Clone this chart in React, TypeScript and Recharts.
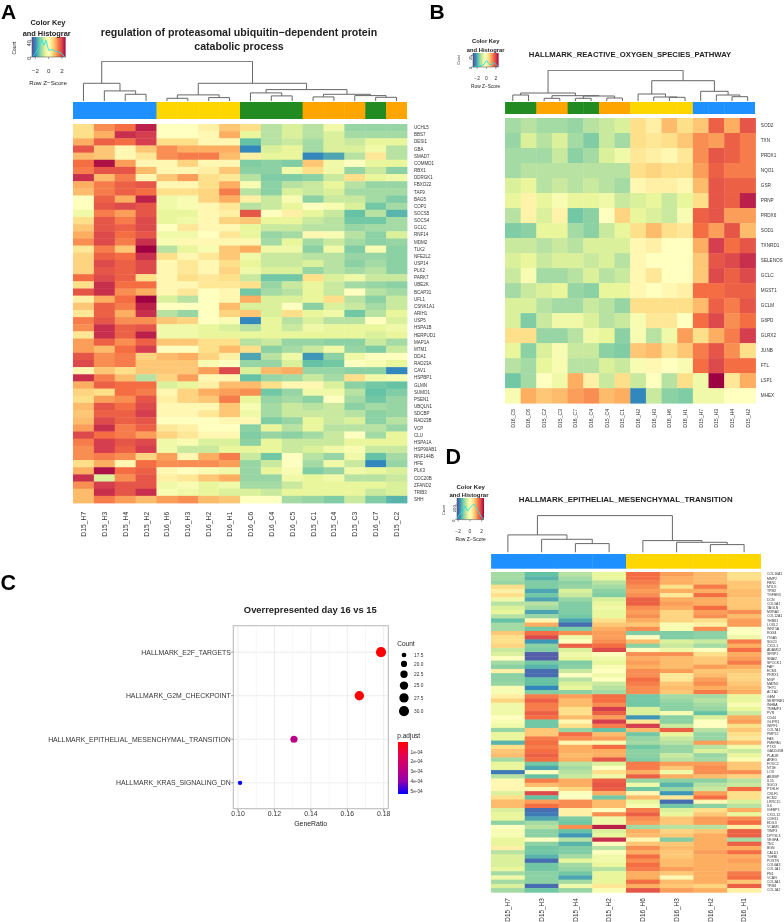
import React from 'react';
import { ScatterChart, Scatter, XAxis, YAxis, ZAxis, LineChart, Line, ReferenceArea, ReferenceLine, Cell } from 'recharts';

// ---------- Palette ----------
const SPECTRAL = ['#5E4FA2', '#3288BD', '#66C2A5', '#ABDDA4', '#E6F598', '#FFFFBF', '#FEE08B', '#FDAE61', '#F46D43', '#D53E4F', '#9E0142'];
const GROUP_COLORS: Record<string, string> = { blue: '#1E90FF', gold: '#FFD700', green: '#228B22', orange: '#FFA500' };
const FONT = '"Liberation Sans", Arial, sans-serif';

// ---------- Panel A ----------
const colsA = ['D15_H7', 'D15_H3', 'D15_H4', 'D15_H2', 'D16_H6', 'D16_H3', 'D16_H2', 'D16_H1', 'D16_C6', 'D16_C4', 'D16_C5', 'D15_C1', 'D15_C4', 'D15_C3', 'D16_C7', 'D15_C2'];
const groupsA = ['blue', 'blue', 'blue', 'blue', 'gold', 'gold', 'gold', 'gold', 'green', 'green', 'green', 'orange', 'orange', 'orange', 'green', 'orange'];
const rowsA = ['UCHL5', 'BBS7', 'DESI1', 'GBA', 'SMAD7', 'COMMD1', 'RBX1', 'DDRGK1', 'FBXO22', 'TAF9', 'BAG5', 'COP1', 'SOCS5', 'SOCS4', 'GCLC', 'RNF14', 'MDM2', 'TLK2', 'NFE2L2', 'USP14', 'PLK2', 'PARK7', 'UBE2K', 'BCAP31', 'UFL1', 'CSNK1A1', 'ARIH1', 'USP5', 'HSPA1B', 'HERPUD1', 'MAP1A', 'MTM1', 'DDA1', 'RAD23A', 'CAV1', 'HSPBP1', 'GLMN', 'SUMO1', 'PSEN1', 'UBQLN1', 'SDCBP', 'RAD23B', 'VCP', 'CLU', 'HSPA1A', 'HSP90AB1', 'RNF144B', 'HFE', 'PLK3', 'CDC20B', 'ZFAND2', 'TRIB3', 'SHH'];
const matrixA = [
  [12, 15, 16, 19, 10, 10, 11, 13, 12, 7, 8, 7, 9, 6, 6, 6],
  [12, 14, 18.5, 18, 10, 10, 10.5, 14, 8.5, 7, 8, 7, 8, 6.5, 6.5, 6.5],
  [14, 16.5, 16, 18, 12, 12, 10.5, 10.5, 4, 7, 7.5, 6.5, 8, 7.5, 8.5, 8.5],
  [17, 13, 10.5, 13, 15, 14, 14, 14, 2, 8, 8.5, 6.5, 8, 8, 9, 7],
  [13.5, 13, 10.5, 11.5, 15, 15.5, 15.5, 13.5, 11, 8.5, 8.5, 2, 3, 7, 11.5, 7],
  [16, 19.5, 14.5, 10.5, 10.5, 12.5, 10.5, 10.5, 5, 5.5, 5, 13, 9, 10, 8.5, 8.5],
  [15.5, 17, 17, 13.5, 10.5, 10.5, 11, 13, 5.5, 5.5, 9, 12, 9, 6, 7.5, 5.5],
  [18.5, 13.5, 15.5, 10.5, 13, 14.5, 12, 11.5, 7, 5, 5, 5.5, 7.5, 12, 8.5, 9],
  [14, 15.5, 16.5, 17, 10.5, 10.5, 12, 14, 9.5, 5.5, 7, 7.5, 8.5, 7, 6, 6],
  [13.5, 15.5, 16.5, 16, 12, 12, 12.5, 15.5, 7, 5.5, 8, 7.5, 8, 6.5, 6.5, 6.5],
  [10, 16.5, 14, 19, 9, 9.5, 12.5, 14, 11, 7.5, 9.5, 5.5, 7.5, 7.5, 6.5, 5],
  [10, 17, 17.5, 17, 9, 9.5, 10.5, 11.5, 7, 7.5, 8.5, 10, 9.5, 8, 4.5, 6.5],
  [9, 15.5, 14.5, 17, 8.5, 8.5, 10.5, 11, 17, 10, 11, 8.5, 7.5, 4, 7, 3.5],
  [12, 17, 15.5, 17.5, 8.5, 9, 10.5, 12.5, 13, 8.5, 8.5, 7.5, 7, 4.5, 4.5, 6.5],
  [13, 17, 16.5, 17.5, 10, 11.5, 10.5, 10.5, 8.5, 7.5, 7.5, 7, 7, 6, 6.5, 6.5],
  [14, 17.5, 16, 17, 9, 9, 10, 11.5, 8.5, 6, 6.5, 10.5, 9.5, 7, 5.5, 8],
  [15, 17.5, 15.5, 18.5, 9.5, 10.5, 10.5, 10.5, 10.5, 6.5, 8.5, 6.5, 7.5, 6.5, 5.5, 6],
  [11.5, 15.5, 13, 20, 7, 8.5, 9.5, 13, 14, 9, 9, 5.5, 9, 5, 9.5, 5.5],
  [12.5, 16.5, 16, 18.5, 12, 10.5, 11.5, 13, 9, 7.5, 7.5, 7, 7, 6, 6, 5.5],
  [12.5, 17.5, 16.5, 17.5, 10.5, 11.5, 10.5, 12, 8.5, 7.5, 7.5, 8, 7, 5.5, 6.5, 5.5],
  [12.5, 17, 16.5, 17.5, 10.5, 11.5, 10.5, 12.5, 9, 8, 8, 6, 7, 6.5, 7, 5.5],
  [16, 17.5, 16.5, 12, 10.5, 12, 11.5, 12, 7.5, 4.5, 4.5, 12, 8, 9, 7.5, 7.5],
  [12, 18.5, 16, 16, 10.5, 10.5, 11.5, 11.5, 12, 6, 7.5, 8.5, 7.5, 6.5, 6, 5.5],
  [17, 18.5, 15, 14, 10.5, 11.5, 10, 10.5, 4.5, 6.5, 7, 8.5, 7.5, 10, 7, 6.5],
  [11, 14, 16, 20, 8, 7, 10, 10.5, 14, 8, 8, 8.5, 12, 7, 5.5, 7.5],
  [13, 16.5, 15.5, 19, 10, 10, 10, 13.5, 8, 8, 10, 5.5, 8, 7.5, 6.5, 7.5],
  [11.5, 16.5, 14, 18.5, 7, 6, 10, 12.5, 13, 8, 12, 8.5, 9, 4.5, 7, 8.5],
  [15.5, 17, 15, 15, 13, 12.5, 10, 9.5, 2, 8.5, 7, 8, 7, 7, 10, 8],
  [15, 18.5, 16.5, 17, 9, 9, 8.5, 8, 7, 8.5, 7.5, 9, 8.5, 8.5, 8.5, 9],
  [11.5, 18.5, 16.5, 19, 9, 9, 8.5, 8.5, 8.5, 8.5, 8.5, 8.5, 8.5, 8.5, 8, 8.5],
  [14.5, 16.5, 15, 16.5, 13, 13, 12, 12, 7, 7.5, 6, 6, 5.5, 5.5, 7.5, 6.5],
  [14.5, 13.5, 16, 18, 10, 10, 12, 13.5, 12, 5.5, 6.5, 7.5, 9, 6, 5, 7.5],
  [17, 15, 15.5, 12.5, 13.5, 14, 12.5, 11, 3, 7, 9, 2.5, 5.5, 9, 10, 10],
  [17.5, 15, 15.5, 13, 13, 13, 9.5, 10, 6, 6, 8, 4, 4.5, 10, 9.5, 8.5],
  [10.5, 13, 12, 13, 13, 13, 14.5, 17.5, 8, 13.5, 14, 6, 6, 5.5, 5.5, 2],
  [18.5, 15.5, 13.5, 7, 12.5, 14.5, 10.5, 10.5, 4, 6, 6.5, 7.5, 6.5, 12, 9, 9.5],
  [14, 16.5, 16, 16, 8, 8.5, 11, 13.5, 13.5, 12, 10.5, 10.5, 8, 5.5, 4.5, 4],
  [12.5, 12, 16, 15.5, 10.5, 12.5, 14, 14.5, 15, 4.5, 6, 9, 9, 7, 4, 5],
  [12, 14.5, 15, 17, 11, 12.5, 13, 15.5, 8.5, 6, 6.5, 5.5, 10, 6.5, 4.5, 6],
  [13.5, 17, 16, 17.5, 10.5, 10.5, 10.5, 13, 9.5, 6.5, 7.5, 7, 7.5, 5.5, 6.5, 6],
  [13, 16.5, 16.5, 18, 10.5, 10.5, 11.5, 13, 9, 6.5, 7.5, 7.5, 7.5, 7, 5.5, 6],
  [13.5, 17.5, 16.5, 17, 10, 10, 10, 10.5, 10.5, 5, 6, 8.5, 7.5, 8, 5.5, 7],
  [14.5, 18.5, 15.5, 16.5, 11.5, 11, 10, 10, 5.5, 8.5, 7, 8.5, 7, 7, 7, 6],
  [17.5, 16, 15.5, 14.5, 12.5, 11.5, 10.5, 10.5, 5, 6, 5.5, 6.5, 7.5, 10, 6.5, 8.5],
  [15.5, 18, 17, 17.5, 9, 9.5, 8, 8, 5.5, 8.5, 7.5, 7.5, 7.5, 8.5, 8.5, 8.5],
  [15, 18, 16.5, 18, 9, 7.5, 7.5, 8.5, 8.5, 8.5, 7.5, 8, 9, 9.5, 7.5, 7.5],
  [15, 15.5, 15, 12.5, 14.5, 10.5, 14, 15.5, 7.5, 4.5, 10, 7, 6, 9, 4, 6.5],
  [12, 14, 10.5, 16, 15, 15, 15, 14.5, 6, 7.5, 10, 6.5, 9, 7.5, 2, 6],
  [14, 19.5, 16, 16.5, 10.5, 10, 9.5, 9, 6, 8.5, 9.5, 5, 6, 9, 8.5, 8],
  [18.5, 8, 15, 17, 11, 11.5, 13, 14, 6, 6, 9, 8.5, 9, 7, 7, 7.5],
  [15, 18, 17, 17, 9, 9.5, 8.5, 9, 6.5, 6.5, 7.5, 8.5, 8.5, 8.5, 8.5, 8],
  [13.5, 18.5, 17, 18.5, 9.5, 9, 8.5, 8, 8, 7.5, 8.5, 8.5, 8.5, 8.5, 7.5, 8],
  [13.5, 15.5, 14.5, 13.5, 14.5, 15, 13.5, 13, 10, 10, 6.5, 6, 5, 7.5, 5, 3.5],
];
// [left x, right x, left foot, right foot, top]
const mergesA = [
  [2.5, 3.5, 0, 0, 7.3], [1.5, 3, 0, 7.3, 10.7], [0.5, 2.25, 0, 10.7, 18.3],
  [4.5, 5.5, 0, 0, 3.3], [6.5, 7.5, 0, 0, 4], [5, 7, 3.3, 4, 6.7],
  [9.5, 10.5, 0, 0, 5.7], [8.5, 10, 0, 5.7, 8.7], [11.5, 12.5, 0, 0, 4.7],
  [14.5, 15.5, 0, 0, 4.3], [13.5, 15, 0, 4.3, 6], [12, 14.25, 4.7, 6, 7.3],
  [9.25, 13.125, 8.7, 7.3, 12], [6, 11.19, 6.7, 12, 18.3], [1.375, 8.6, 18.3, 18.3, 40.3],
];
const histA = [[-2.4, 2], [-2, 8], [-1.5, 22], [-1, 42], [-0.7, 28], [-0.4, 40], [0, 16], [0.5, 18], [1, 14], [1.5, 12], [2, 8], [2.4, 0]];

// ---------- Panel B ----------
const colsB = ['D16_C5', 'D16_C6', 'D15_C2', 'D15_C3', 'D16_C7', 'D16_C4', 'D15_C4', 'D15_C1', 'D16_H2', 'D16_H3', 'D16_H6', 'D16_H1', 'D15_H7', 'D15_H3', 'D15_H4', 'D15_H2'];
const groupsB = ['green', 'green', 'orange', 'orange', 'green', 'green', 'orange', 'orange', 'gold', 'gold', 'gold', 'gold', 'blue', 'blue', 'blue', 'blue'];
const rowsB = ['SOD2', 'TXN', 'PRDX1', 'NQO1', 'GSR', 'PRNP', 'PRDX6', 'SOD1', 'TXNRD1', 'SELENOS', 'GCLC', 'MGST1', 'GCLM', 'G6PD', 'GLRX2', 'JUNB', 'FTL', 'LSP1', 'MHEX'];
const matrixB = [
  [6.5, 7, 6.5, 6.5, 6, 7, 7.5, 8, 12, 11, 13.5, 12, 13, 16.5, 14, 17],
  [6, 8, 7, 8, 6.5, 5, 7.5, 6.5, 12, 11.5, 12, 13, 15, 14.5, 16.5, 15.5],
  [6.5, 6.5, 6.5, 7.5, 5.5, 6.5, 8, 9, 11.5, 11, 10.5, 11.5, 15, 17, 16.5, 15.5],
  [6.5, 7, 7, 7, 7, 7, 7, 7, 12, 12.5, 12, 12, 14.5, 16.5, 15.5, 15.5],
  [8, 8.5, 7, 7.5, 7, 7.5, 7, 6.5, 10.5, 11, 11, 10.5, 13.5, 17, 16.5, 16.5],
  [8.5, 10.8, 8.5, 9.5, 8.5, 8.5, 9, 7.5, 8, 8.5, 7.5, 8.5, 12, 17, 16.5, 19],
  [7, 10.8, 8, 10.8, 4.5, 5.5, 10, 12.5, 8.5, 8, 7.5, 9.5, 16.5, 17, 14.5, 14.5],
  [5, 5.5, 8.5, 8.5, 6.5, 5.5, 7.5, 8.5, 12, 13.5, 12, 11.5, 16, 14.5, 17, 13.5],
  [7.5, 7.5, 7, 7.5, 7, 8, 8, 8, 10.5, 11, 10, 10, 14, 18, 16, 17],
  [8, 8.5, 7.5, 8, 8, 7.5, 8, 7, 10.5, 10, 10, 10, 13, 17, 17.5, 18.5],
  [7.5, 9.5, 6.5, 6.5, 7, 8, 7, 7.5, 10.5, 11.5, 10, 10, 13, 17.5, 16.5, 17.5],
  [6.5, 7.5, 8, 8.5, 6, 5.5, 8.5, 8.5, 10.5, 10, 10.5, 11, 16, 16, 16.5, 16.5],
  [8, 8, 7, 6.5, 6.5, 7.5, 7, 6, 12, 12, 12, 12, 13.5, 16.5, 15.5, 17],
  [8, 5, 7.5, 9, 9, 8, 7, 7.5, 9.5, 11.5, 11.5, 10, 16, 17.5, 15, 16],
  [12, 12, 6, 6, 7, 9, 8.5, 5.5, 9.5, 7, 9, 14.5, 12, 14, 15.5, 18],
  [8.5, 5.5, 8, 9.5, 7.5, 7.5, 5.5, 5, 13, 13.5, 12, 13, 15.5, 17, 15, 12],
  [7, 6.5, 8.5, 9.5, 7, 7, 8, 7.5, 9.5, 10.5, 10, 9.5, 16, 17.5, 16, 16],
  [4.5, 6.5, 10, 9, 14, 11, 7.5, 12, 7.5, 10, 7, 12, 9, 20, 11.5, 14],
  [9.5, 14, 13, 13.5, 14.5, 15, 13.5, 14, 2, 7.5, 5.5, 5, 9, 9, 10, 10],
];
const mergesB = [
  [0.5, 1.5, 0, 0, 6], [2.5, 3.5, 0, 0, 2.7], [4.5, 5.5, 0, 0, 2.7], [6.5, 7.5, 0, 0, 3],
  [5, 7, 2.7, 3, 5], [3, 6, 2.7, 5, 5.3], [1, 4.5, 6, 5.3, 8],
  [10.5, 11.5, 0, 0, 3.7], [9.5, 11, 0, 3.7, 4], [8.5, 10.25, 0, 4, 7],
  [14.5, 15.5, 0, 0, 4.3], [13.5, 15, 0, 4.3, 6], [12.5, 14.25, 0, 6, 9.7],
  [9.375, 13.375, 7, 9.7, 20.3], [2.75, 11.375, 8, 20.3, 30.7],
];
const histB = [[-2.9, 0], [-2, 1], [-1, 3], [-0.5, 6], [0, 14], [0.5, 6], [1, 4], [1.5, 10], [2, 6], [2.6, 0]];

// ---------- Panel D ----------
const colsD = ['D15_H7', 'D15_H3', 'D15_H4', 'D15_H2', 'D16_H6', 'D16_H3', 'D16_H2', 'D16_H1'];
const groupsD = ['blue', 'blue', 'blue', 'blue', 'gold', 'gold', 'gold', 'gold'];
const rowsD = ['COL16A1', 'MMP2', 'FBN1', 'MYLK', 'TPM2', 'TGFBR3', 'DCN', 'COL5A1', 'TAGLN', 'MXRA5', 'COL12A1', 'THBS1', 'LOXL2', 'WNT5A', 'RGS4', 'ITGA5', 'SGCD', 'CXCL1', 'ADAM12', 'SFRP1', 'SNAI2', 'SPOCK1', 'FAP', 'ECM1', 'PRRX1', 'MGP', 'MATN2', 'THY1', 'ACTA2', 'GEM', 'SERPINE1', 'INHBA', 'TNFAIP3', 'PVR', 'CD44', 'GLIPR1', 'WIPF1', 'COL7A1', 'PMP22', 'FAS', 'PMEPA1', 'PTX3', 'GADD45B', 'PLAUR', 'AREG', 'FOXC2', 'NT5E', 'LOX', 'ABI3BP', 'IL15', 'SGCG', 'PTHLH', 'CRLF1', 'ECM2', 'LRRC15', 'IL6', 'IGFBP3', 'CXCL12', 'CDH11', 'EDIL3', 'VCAM1', 'TIMP3', 'DPYSL3', 'VEGFA', 'TNC', 'BGN', 'CALD1', 'TGFBI', 'POSTN', 'COL6A3', 'COL1A1', 'FN1', 'VCAN', 'COL3A1', 'TPM4', 'COL1A2'];
const matrixD = [
  [6.5, 4, 7, 8.5, 16, 14.5, 13.5, 12], [6.5, 3.5, 6.5, 8.5, 16, 14, 13.5, 12], [6, 5, 5.5, 7, 15.5, 14, 13.5, 13],
  [12, 5, 6, 6.5, 15, 12, 15.5, 13], [11, 3, 8, 5.5, 14.5, 14, 14, 13.5], [12, 4.5, 7.5, 5, 15, 11.5, 16, 13.5],
  [9, 3, 6, 8, 16.5, 14, 14, 13], [7, 7, 5, 8.5, 16.5, 14.5, 14, 13], [8, 6.5, 5, 9, 15, 14, 16, 13],
  [8.5, 3, 5, 8.5, 14.5, 12.5, 14.5, 15], [7, 6, 4.5, 8.5, 15, 12.5, 15, 13.5], [4, 10.5, 3, 12, 14, 12.5, 12, 14.5],
  [6.5, 14, 1, 13, 13, 9.5, 11, 14.5], [6.5, 4.5, 5, 14, 15, 9.5, 15, 10], [13, 16, 15, 14.5, 5, 5, 5.5, 10],
  [12, 17.5, 9, 14.5, 10, 5, 5.5, 9], [12, 2.5, 10, 15, 13.5, 8, 7.5, 15.5], [12.5, 5.5, 16.5, 16, 5.5, 7.5, 6.5, 14],
  [7.5, 5, 8, 17.5, 10, 9, 10, 16], [8, 0.5, 9, 10, 15, 15, 12, 14], [10, 0.5, 8.5, 9, 14, 13.5, 13, 14.5],
  [6.5, 4.5, 5, 8.5, 14.5, 13.5, 13, 15.5], [5.5, 3.5, 5.5, 9.5, 14, 13.5, 14.5, 14], [11, 1, 7.5, 10, 15, 14.5, 13, 13],
  [5.5, 1, 10, 9, 15, 11.5, 13.5, 12.5], [5.5, 4, 7, 10, 16, 11.5, 14.5, 12.5], [6, 4, 8, 7.5, 15.5, 13, 15, 13],
  [9.5, 2, 8.5, 7, 15, 13.5, 14, 13.5], [9.5, 5, 5.5, 6.5, 15, 13, 15.5, 14], [11, 15.5, 14.5, 16, 4.5, 6.5, 6.5, 8.5],
  [12.5, 16.5, 13.5, 16, 4.5, 6, 7, 8.5], [9, 15.5, 13.5, 15, 4.5, 5.5, 6.5, 9.5], [9, 15.5, 12, 18, 8, 5.5, 6, 8.5],
  [9, 16.5, 12, 16.5, 8, 9.5, 4, 7.5], [10, 16, 13.5, 14.5, 2.5, 5.5, 8, 14], [9.5, 4.5, 10.5, 18, 11.5, 5.5, 10, 14.5],
  [9, 4.5, 12, 15.5, 18, 7.5, 10, 12], [6, 13, 6, 4, 13.5, 16.5, 7, 13], [8.5, 13, 16, 13.5, 4.5, 8.5, 6, 12],
  [8.5, 15.5, 15, 14.5, 6, 7.5, 6, 11.5], [3.5, 16, 10.5, 9.5, 6.5, 7, 14.5, 13.5], [12, 15.5, 14, 16, 4.5, 6, 7, 9],
  [13, 16, 14, 14, 5.5, 6, 8, 7.5], [13.5, 16.5, 13.5, 14, 5.5, 7.5, 6, 8.5], [6.5, 16, 14, 17, 5, 7, 6.5, 9.5],
  [8.5, 4.5, 7, 8, 15.5, 14.5, 14.5, 13], [8.5, 3, 6.5, 10, 15.5, 13, 15, 13], [1.5, 10, 7, 12, 14, 9, 15, 15],
  [7, 4, 7.5, 9, 16.5, 14, 13.5, 12.5], [10.5, 15.5, 14, 16.5, 6, 5.5, 5.5, 7], [10.5, 13.5, 14, 17, 9, 3.5, 7, 7.5],
  [10.5, 10.5, 12.5, 16.5, 4.5, 6, 7.5, 16], [8, 17.5, 10, 14, 10.5, 2.5, 14.5, 12], [12, 4, 10, 4.5, 13.5, 11.5, 16, 12],
  [13.5, 14.5, 15, 13.5, 8.5, 1, 10.5, 8], [13.5, 16, 15, 13.5, 9.5, 4.5, 5.5, 7], [8, 1, 11, 10, 15.5, 8, 12, 14],
  [8.5, 1.5, 11, 15, 16.5, 8.5, 13, 8.5], [8.5, 3, 5, 9, 15, 13, 14.5, 15], [5.5, 6.5, 4.5, 9, 14.5, 13, 14.5, 16],
  [10, 7, 15, 19, 6.5, 7, 7, 11], [9.5, 5.5, 4, 8, 14, 12.5, 13, 16.5], [9.5, 5.5, 2.5, 8.5, 13.5, 13, 14, 16.5],
  [8.5, 10, 7, 18.5, 10.5, 5, 14, 6.5], [8.5, 5.5, 3.5, 10, 13, 13, 14, 16.5], [11, 4.5, 5, 7, 15, 13.5, 14, 14],
  [7, 4.5, 5, 10, 14, 13, 14.5, 16], [8, 3.5, 6.5, 9, 16, 13, 14, 14], [8, 1, 8.5, 9, 15, 13.5, 14, 14.5],
  [8, 4.5, 6.5, 8.5, 16, 13.5, 14, 14], [8.5, 4.5, 6, 7, 15.5, 14.5, 14, 14], [6.5, 5.5, 4.5, 8.5, 14, 13, 14, 15.5],
  [9, 5.5, 3, 8.5, 14, 10.5, 14, 16], [6.5, 5.5, 6.5, 8.5, 16, 13.5, 14, 13], [8, 1, 9, 11.5, 14, 13, 12.5, 16.5],
  [6.5, 4.5, 6, 9.5, 17, 14.5, 14, 11],
];
const mergesD = [
  [2.5, 3.5, 0, 0, 9], [1.5, 3, 0, 9, 13.3], [0.5, 2.25, 0, 13.3, 17.7],
  [6.5, 7.5, 0, 0, 8], [5.5, 7, 0, 8, 10.3], [4.5, 6.25, 0, 10.3, 12], [1.375, 5.375, 17.7, 12, 37],
];
const histD = [[-2.2, 10], [-1.9, 60], [-1.5, 90], [-1.2, 120], [-0.8, 190], [-0.4, 120], [0, 160], [0.4, 200], [0.8, 210], [1.2, 150], [1.6, 90], [2, 30], [2.4, 5]];

// ---------- Panel C ----------
const termsC = ['HALLMARK_KRAS_SIGNALING_DN', 'HALLMARK_EPITHELIAL_MESENCHYMAL_TRANSITION', 'HALLMARK_G2M_CHECKPOINT', 'HALLMARK_E2F_TARGETS'];
const geneRatioC = [0.1011, 0.1307, 0.1666, 0.1785];
const countC = [17, 22, 28, 30];
const pAdjustC = [5.2e-4, 2.9e-4, 1e-5, 1e-5];
const ratioTicks = [0.1, 0.12, 0.14, 0.16, 0.18];
const ratioMinor = [0.11, 0.13, 0.15, 0.17];
const countKeys = [17.5, 20, 22.5, 25, 27.5, 30];
const pTicks = [1e-4, 2e-4, 3e-4, 4e-4, 5e-4];

// ---------- Helpers ----------
const hex = (s: string) => [1, 3, 5].map((i) => parseInt(s.slice(i, i + 2), 16));
function mix(stops: string[], t: number) {
  const p = Math.max(0, Math.min(1, t)) * (stops.length - 1);
  const i = Math.min(Math.floor(p), stops.length - 2);
  const a = hex(stops[i]);
  const b = hex(stops[i + 1]);
  const c = a.map((v, k) => Math.round(v + (b[k] - v) * (p - i)));
  return `rgb(${c[0]},${c[1]},${c[2]})`;
}
// The greens of the reference sit a little further from yellow than a plain reading of the level.
function levelColor(v: number) {
  let u = v;
  if (v > 4 && v < 6.5) u = v - (0.7 * (v - 4)) / 2.5;
  else if (v >= 6.5 && v < 10) u = v - (0.7 * (10 - v)) / 3.5;
  return mix(SPECTRAL, u / 20);
}
const P_STOPS = ['#FF0000', '#E6004F', '#C2007C', '#9500AE', '#0000FF'];
const pColor = (p: number) => mix(P_STOPS, p / 5.27e-4);

const Abs = ({ l, t, children }: any) => <div style={{ position: 'absolute', left: l, top: t }}>{children}</div>;

function Heatmap({ left, top, w, h, rows, cols, matrix, rowFont, colFont, rowGap, colGap, labelH, labelW }: any) {
  const data: any[] = [];
  matrix.forEach((r: number[], i: number) => r.forEach((z, j) => data.push({ x: j + 0.5, y: i + 0.5, z })));
  const cw = w / cols.length;
  const ch = h / rows.length;
  const cell = (p: any) => (
    <rect x={p.cx - cw / 2} y={p.cy - ch / 2} width={cw + 0.4} height={ch + 0.4} fill={levelColor(p.payload.z)} />
  );
  const colTick = (p: any) => (
    <text
      transform={`rotate(-90 ${p.x} ${h + colGap})`}
      x={p.x}
      y={h + colGap}
      dy={colFont * 0.36}
      textAnchor="end"
      fontSize={colFont}
      fontFamily={FONT}
      fill="#333"
    >
      {cols[p.payload.value - 0.5]}
    </text>
  );
  return (
    <Abs l={left} t={top}>
      <ScatterChart width={w + labelW} height={h + labelH} margin={{ top: 0, right: 0, bottom: 0, left: 0 }}>
        <XAxis type="number" dataKey="x" domain={[0, cols.length]} ticks={cols.map((_: any, i: number) => i + 0.5)} interval={0} height={labelH} axisLine={false} tickLine={false} tick={colTick} />
        <YAxis
          type="number"
          dataKey="y"
          orientation="right"
          reversed
          domain={[0, rows.length]}
          ticks={rows.map((_: any, i: number) => i + 0.5)}
          interval={0}
          width={labelW}
          axisLine={false}
          tickLine={false}
          tickSize={0}
          tickMargin={rowGap}
          tick={{ fontSize: rowFont, fontFamily: FONT, fill: '#333' }}
          tickFormatter={(v: number) => rows[v - 0.5]}
        />
        <Scatter data={data} shape={cell} isAnimationActive={false} />
      </ScatterChart>
    </Abs>
  );
}

function Annotation({ left, top, w, h, groups }: any) {
  const data = groups.map((g: string, i: number) => ({ x: i + 0.5, y: 0.5, g }));
  const cw = w / groups.length;
  const cell = (p: any) => <rect x={p.cx - cw / 2} y={0} width={cw + 0.4} height={h} fill={GROUP_COLORS[p.payload.g]} />;
  return (
    <Abs l={left} t={top}>
      <ScatterChart width={w} height={h} margin={{ top: 0, right: 0, bottom: 0, left: 0 }}>
        <XAxis type="number" dataKey="x" domain={[0, groups.length]} hide />
        <YAxis type="number" dataKey="y" domain={[0, 1]} hide />
        <Scatter data={data} shape={cell} isAnimationActive={false} />
      </ScatterChart>
    </Abs>
  );
}

function Dendro({ left, top, w, h, n, maxH, merges }: any) {
  return (
    <Abs l={left} t={top}>
      <ScatterChart width={w} height={h} margin={{ top: 0, right: 0, bottom: 0, left: 0 }}>
        <XAxis type="number" dataKey="x" domain={[0, n]} hide />
        <YAxis type="number" dataKey="y" domain={[0, maxH]} hide allowDataOverflow />
        {merges.map((m: number[], i: number) => (
          <Scatter
            key={i}
            data={[{ x: m[0], y: m[2] }, { x: m[0], y: m[4] }, { x: m[1], y: m[4] }, { x: m[1], y: m[3] }]}
            line={{ stroke: '#666', strokeWidth: 1 }}
            shape={() => <g />}
            isAnimationActive={false}
          />
        ))}
      </ScatterChart>
    </Abs>
  );
}

function ColorKey({ id, plotL, plotT, w, h, xDomain, yDomain, xTicks, yTicks, hist, font, tickMargin }: any) {
  const axisW = 12;
  const axisH = 26;
  const data = hist.map((p: number[]) => ({ x: p[0], y: p[1] }));
  return (
    <Abs l={plotL - axisW} t={plotT}>
      <LineChart width={w + axisW + 1} height={h + axisH} data={data} margin={{ top: 0, right: 1, bottom: 0, left: 0 }}>
        <defs>
          <linearGradient id={id} x1="0" x2="1" y1="0" y2="0">
            {SPECTRAL.map((c, i) => <stop key={c} offset={i / 10} stopColor={c} />)}
          </linearGradient>
        </defs>
        <XAxis type="number" dataKey="x" domain={xDomain} ticks={xTicks} interval={0} height={axisH} tickSize={2} tickMargin={tickMargin} stroke="#444" strokeWidth={0.5} tick={{ fontSize: font, fontFamily: FONT, fill: '#333' }} tickFormatter={(v: number) => String(v).replace('-', '\u2212')} />
        <YAxis type="number" domain={yDomain} ticks={yTicks} interval={0} width={axisW} tickSize={2} tickMargin={1} stroke="#444" strokeWidth={0.5} angle={-90} tick={{ fontSize: font * 0.85, fontFamily: FONT, fill: '#333' }} />
        <ReferenceArea x1={xDomain[0]} x2={xDomain[1]} y1={yDomain[0]} y2={yDomain[1]} fill={`url(#${id})`} fillOpacity={1} stroke="none" />
        <Line dataKey="y" type="linear" stroke="#22E6E6" strokeWidth={0.9} dot={false} isAnimationActive={false} />
      </LineChart>
    </Abs>
  );
}

function DotPlot() {
  const data = termsC.map((t, i) => ({ x: geneRatioC[i], y: i + 1, z: countC[i], p: pAdjustC[i] }));
  const tickStyle = { fontSize: 6.9, fontFamily: FONT, fill: '#333' };
  return (
    <Abs l={0} t={625.7}>
      <ScatterChart width={396} height={200} margin={{ top: 0, right: 7.7, bottom: 0, left: 0 }}>
        <XAxis type="number" dataKey="x" domain={[0.0974, 0.1825]} ticks={ratioTicks} interval={0} height={17} tickSize={2} tickMargin={0.5} stroke="#888" axisLine={false} tick={tickStyle} tickFormatter={(v: number) => v.toFixed(2)} />
        <YAxis type="number" dataKey="y" domain={[0.4, 4.6]} ticks={[1, 2, 3, 4]} interval={0} width={233.3} tickSize={2} tickMargin={0.5} stroke="#888" axisLine={false} tick={tickStyle} tickFormatter={(v: number) => termsC[v - 1]} />
        <ZAxis type="number" dataKey="z" domain={[17, 30]} range={[15, 80]} />
        {ratioMinor.map((v) => <ReferenceLine key={v} x={v} stroke="#F2F2F2" strokeWidth={0.6} />)}
        {ratioTicks.map((v) => <ReferenceLine key={v} x={v} stroke="#EBEBEB" strokeWidth={0.9} />)}
        {[1, 2, 3, 4].map((v) => <ReferenceLine key={v} y={v} stroke="#EBEBEB" strokeWidth={0.9} />)}
        <Scatter data={data} isAnimationActive={false}>
          {data.map((d) => <Cell key={d.y} fill={pColor(d.p)} />)}
        </Scatter>
      </ScatterChart>
    </Abs>
  );
}

function CountLegend() {
  const radius = (c: number) => Math.sqrt((15 + ((c - 17) / 13) * 65) / Math.PI);
  const ys: number[] = [];
  countKeys.forEach((c, i) => {
    ys.push(i === 0 ? 5 : ys[i - 1] + radius(countKeys[i - 1]) + radius(c) + 3.5);
  });
  const data = countKeys.map((c, i) => ({ x: 0.5, y: ys[i], z: c }));
  return (
    <Abs l={397} t={650}>
      <ScatterChart width={36} height={70} margin={{ top: 0, right: 0, bottom: 0, left: 0 }}>
        <XAxis type="number" dataKey="x" domain={[0, 1]} hide />
        <YAxis type="number" dataKey="y" orientation="right" reversed domain={[0, 70]} ticks={ys} interval={0} width={22} axisLine={false} tickLine={false} tickSize={0} tickMargin={3} tick={{ fontSize: 4.8, fontFamily: FONT, fill: '#333' }} tickFormatter={(v: number) => countKeys[ys.indexOf(v)].toFixed(1)} />
        <ZAxis type="number" dataKey="z" domain={[17, 30]} range={[15, 80]} />
        <Scatter data={data} fill="#000" isAnimationActive={false} />
      </ScatterChart>
    </Abs>
  );
}

function PLegend() {
  const data = pTicks.map((p) => ({ x: 0.5, y: p }));
  return (
    <Abs l={397.7} t={742.3}>
      <ScatterChart width={36} height={52} margin={{ top: 0, right: 0, bottom: 0, left: 0 }}>
        <defs>
          <linearGradient id="pbar" x1="0" x2="0" y1="0" y2="1">
            {P_STOPS.map((c, i) => <stop key={c} offset={i / 4} stopColor={c} />)}
          </linearGradient>
        </defs>
        <XAxis type="number" dataKey="x" domain={[0, 1]} hide />
        <YAxis type="number" dataKey="y" orientation="right" reversed domain={[0, 5.27e-4]} ticks={pTicks} interval={0} width={26} axisLine={false} tickLine={false} tickSize={0} tickMargin={2.5} tick={{ fontSize: 4.8, fontFamily: FONT, fill: '#333' }} tickFormatter={(v: number) => `${Math.round(v * 1e4)}e-04`} />
        <ReferenceArea x1={0} x2={1} y1={0} y2={5.27e-4} fill="url(#pbar)" fillOpacity={1} stroke="none" />
        <Scatter data={data} shape={() => <g />} isAnimationActive={false} />
      </ScatterChart>
    </Abs>
  );
}

const T = ({ x, y, s, b, a, c, r, children }: any) => (
  <text
    x={x}
    y={y}
    fontSize={s}
    fontWeight={b ? 'bold' : 'normal'}
    textAnchor={a || 'middle'}
    fill={c || '#222'}
    fontFamily={FONT}
    transform={r ? `rotate(-90 ${x} ${y})` : undefined}
  >
    {children}
  </text>
);

export default function App() {
  return (
    <div style={{ position: 'absolute', left: 0, top: 0, width: 784, height: 922, overflow: 'hidden', background: '#fff', filter: 'blur(0.35px)' }}>
      {/* Panel A */}
      <Dendro left={73} top={60.7} w={334} h={40.6} n={16} maxH={40.6} merges={mergesA} />
      <Annotation left={73} top={102.3} w={334} h={17} groups={groupsA} />
      <Heatmap left={73} top={124} w={334} h={379} rows={rowsA} cols={colsA} matrix={matrixA} rowFont={4.5} colFont={6.8} rowGap={7} colGap={8.7} labelH={36} labelW={40} />
      <ColorKey id="keyA" plotL={31.7} plotT={36.7} w={33.6} h={20} xDomain={[-2.5, 2.55]} yDomain={[0, 48]} xTicks={[-2, 0, 2]} yTicks={[0, 40]} hist={histA} font={6.2} tickMargin={10} />

      {/* Panel B */}
      <Dendro left={504.7} top={69.7} w={250.5} h={31} n={16} maxH={31} merges={mergesB} />
      <Annotation left={504.7} top={101.7} w={250.5} h={12.6} groups={groupsB} />
      <Heatmap left={504.7} top={117.5} w={250.5} h={285.2} rows={rowsB} cols={colsB} matrix={matrixB} rowFont={4.66} colFont={5.2} rowGap={5.3} colGap={5.6} labelH={30} labelW={28} />
      <ColorKey id="keyB" plotL={472.7} plotT={52.7} w={25.6} h={14} xDomain={[-2.9, 2.6]} yDomain={[0, 30]} xTicks={[-2, 0, 2]} yTicks={[0, 25]} hist={histB} font={5} tickMargin={7.5} />

      {/* Panel D */}
      <Dendro left={490.8} top={515} w={270} h={37.6} n={8} maxH={37.6} merges={mergesD} />
      <Annotation left={490.8} top={554} w={270} h={14.7} groups={groupsD} />
      <Heatmap left={490.8} top={571.7} w={270} h={320.3} rows={rowsD} cols={colsD} matrix={matrixD} rowFont={3.5} colFont={6.4} rowGap={6} colGap={6} labelH={30} labelW={23} />
      <ColorKey id="keyD" plotL={457.3} plotT={497.7} w={27} h={21.6} xDomain={[-2.2, 2.4]} yDomain={[0, 300]} xTicks={[-2, 0, 2]} yTicks={[0, 200]} hist={histD} font={5} tickMargin={7.5} />

      {/* Panel C */}
      <DotPlot />
      <CountLegend />
      <PLegend />

      <svg width={784} height={922} style={{ position: 'absolute', left: 0, top: 0, pointerEvents: 'none' }}>
        <T x={1} y={19.2} s={21} b a="start" c="#000">A</T>
        <T x={429.5} y={19.2} s={21} b a="start" c="#000">B</T>
        <T x={0.5} y={590} s={21.5} b a="start" c="#000">C</T>
        <T x={445.5} y={464} s={21.5} b a="start" c="#000">D</T>

        <T x={239} y={35.7} s={10.6} b>regulation of proteasomal ubiquitin−dependent protein</T>
        <T x={239} y={50} s={10.6} b>catabolic process</T>
        <T x={48} y={25} s={7.4} b>Color Key</T>
        <T x={46.7} y={35.7} s={7.4} b>and Histograr</T>
        <T x={48} y={84.7} s={6.2}>Row Z−Score</T>
        <T x={16} y={48} s={4.8} r>Count</T>

        <T x={630} y={56.7} s={7.7} b>HALLMARK_REACTIVE_OXYGEN_SPECIES_PATHWAY</T>
        <T x={485.7} y={43.3} s={5.8} b>Color Key</T>
        <T x={485.7} y={51.7} s={5.8} b>and Histograr</T>
        <T x={485.7} y={87.7} s={4.8}>Row Z−Score</T>
        <T x={460} y={60} s={3.6} r>Count</T>

        <T x={625.7} y={502} s={7.9} b>HALLMARK_EPITHELIAL_MESENCHYMAL_TRANSITION</T>
        <T x={470.7} y={489} s={6} b>Color Key</T>
        <T x={469} y={497.3} s={6} b>and Histograr</T>
        <T x={470.7} y={540.7} s={5}>Row Z−Score</T>
        <T x={444.5} y={510} s={3.8} r>Count</T>

        <T x={310.3} y={613.3} s={9.4} b>Overrepresented day 16 vs 15</T>
        <rect x={233.3} y={625.7} width={155} height={183} fill="none" stroke="#BDBDBD" strokeWidth={1.1} />
        <T x={310.7} y={825.7} s={6.9}>GeneRatio</T>
        <T x={397.3} y={646} s={6.5} a="start">Count</T>
        <T x={397.3} y={738} s={6.5} a="start">p.adjust</T>
      </svg>
    </div>
  );
}
